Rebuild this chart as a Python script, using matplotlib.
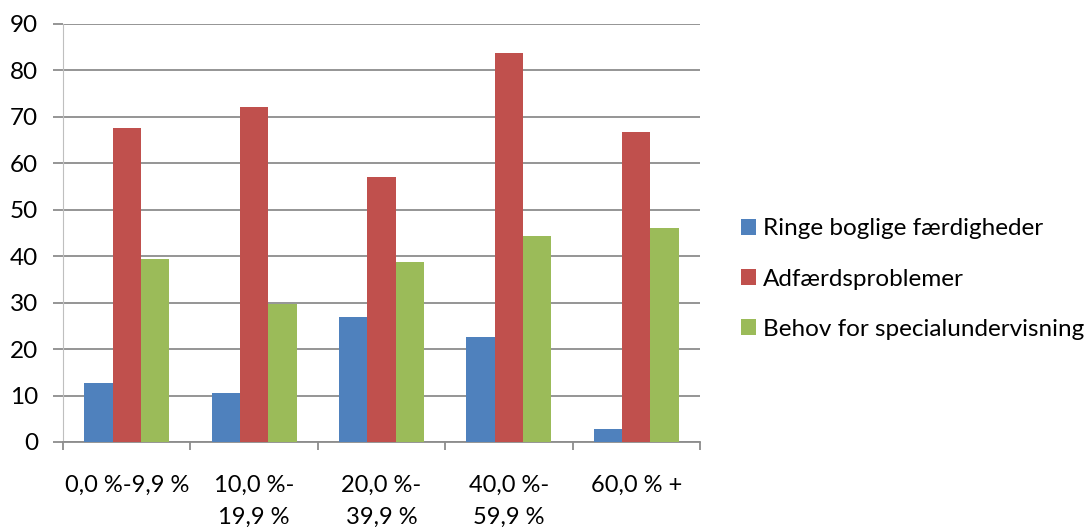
import matplotlib
matplotlib.use("Agg")
import matplotlib.pyplot as plt
import numpy as np

categories = ["0,0 %-9,9 %", "10,0 %-\n19,9 %", "20,0 %-\n39,9 %", "40,0 %-\n59,9 %", "60,0 % +"]
series_names = ["Ringe boglige færdigheder", "Adfærdsproblemer", "Behov for specialundervisning"]
ringe = [12.8, 10.5, 27.0, 22.6, 2.7]
adfaerd = [67.7, 72.1, 57.0, 83.7, 66.8]
behov = [39.5, 29.7, 38.7, 44.3, 46.0]
colors = ["#4F81BD", "#C0504D", "#9BBB59"]

plt.rcParams["font.family"] = ["Lato", "DejaVu Sans"]

fig = plt.figure(figsize=(10.91, 5.27), dpi=100)
ax = fig.add_axes([63 / 1091, 1 - 442 / 527, 637 / 1091, 418 / 527])

x = np.arange(len(categories))
w = 1 / 4.5
for i, (vals, name) in enumerate(zip([ringe, adfaerd, behov], series_names)):
    ax.bar(x + (i - 1) * w, vals, width=w, color=colors[i], label=name, zorder=3)

ax.set_xlim(-0.5, len(categories) - 0.5)
ax.set_ylim(0, 90)
ax.set_yticks(range(0, 91, 10))
ax.yaxis.grid(True, color="#8C8C8C", linewidth=1.3, zorder=0)
ax.set_axisbelow(True)

ax.set_xticks(np.arange(-0.5, len(categories), 1.0))
ax.set_xticklabels([])
ax.set_xticks(x, minor=True)
ax.set_xticklabels(categories, minor=True, fontsize=17, linespacing=1.6)
ax.tick_params(axis="x", which="minor", length=0, pad=24)
ax.tick_params(axis="x", which="major", length=6, color="#8C8C8C", width=1.3)
ax.tick_params(axis="y", length=7, color="#8C8C8C", width=1.3, labelsize=17.5, pad=11)

for side in ["top", "right"]:
    ax.spines[side].set_visible(False)
ax.spines["left"].set_color("#BFBFBF")
ax.spines["bottom"].set_color("#8C8C8C")
ax.spines["bottom"].set_linewidth(1.3)

fig.legend(loc="center left", bbox_to_anchor=(741 / 1091, 1 - 279 / 527), frameon=False,
           fontsize=17.5, handlelength=0.62, handleheight=0.62, handletextpad=0.3,
           labelspacing=1.2, borderpad=0, borderaxespad=0)

fig.savefig("out.png", dpi=100)
